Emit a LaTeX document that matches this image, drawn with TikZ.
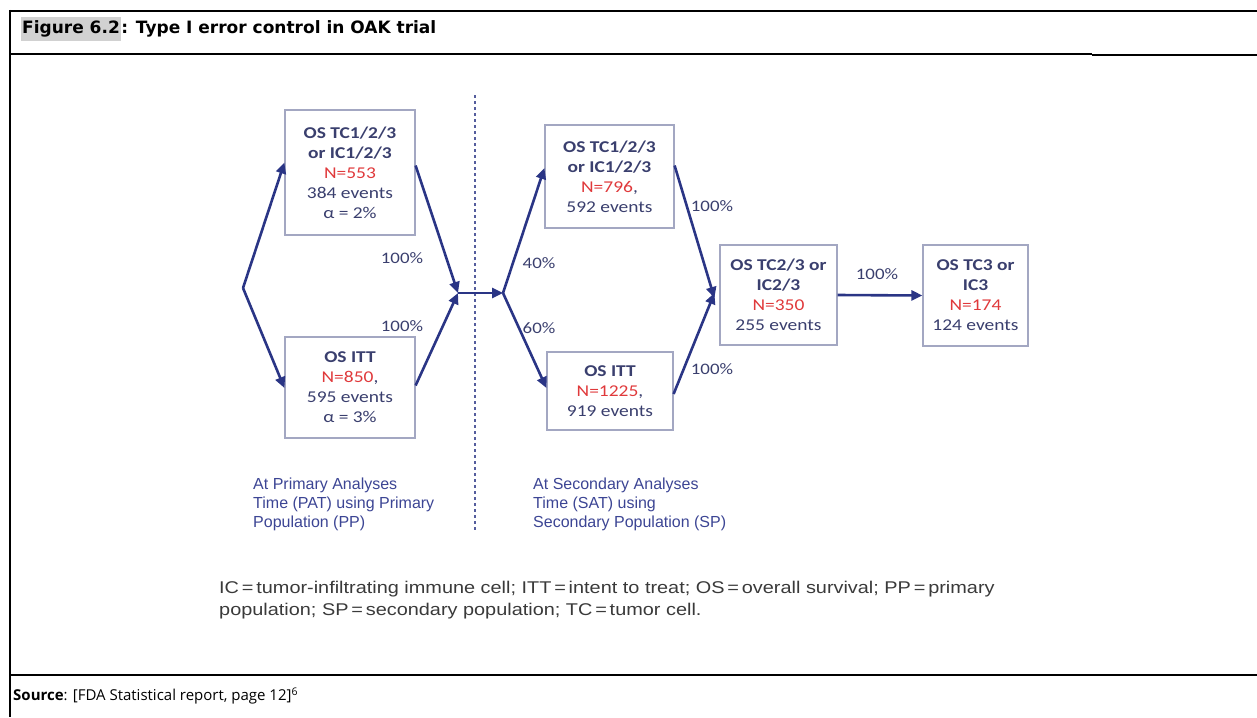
\documentclass[tikz,border=0pt]{standalone}
\usepackage{fontspec}
\setmainfont{Carlito}[FakeStretch=1.18]
\newfontfamily\titlefont{DejaVu Sans}
\newfontfamily\srcfont{Open Sans}
\newfontfamily\arialfont{Liberation Sans}
\newfontfamily\footfont{Liberation Sans}[FakeStretch=1.17]
\usetikzlibrary{arrows.meta}
\definecolor{navy}{HTML}{2A3585}
\definecolor{boxtext}{HTML}{3A3F6E}
\definecolor{nred}{HTML}{E0393B}
\definecolor{boxline}{HTML}{A3A7C2}
\definecolor{labblue}{HTML}{3C4594}
\definecolor{foot}{HTML}{3A3A3A}
\tikzset{
  boxnode/.style={draw=boxline, line width=1.2pt, fill=white, align=center, text=boxtext,
    font=\fontsize{16.5}{20}\selectfont, inner sep=0pt},
  conn/.style={draw=navy, line width=2.6pt, -{Triangle[length=11pt,width=10pt]}},
  pct/.style={text=boxtext, font=\fontsize{16}{18}\selectfont, inner sep=0pt},
  caption/.style={text=labblue, font=\arialfont\fontsize{16}{19}\selectfont, align=left, anchor=north west, inner sep=0pt},
}
\begin{document}
\begin{tikzpicture}[x=1pt,y=-1pt]
\useasboundingbox (0,0) rectangle (1257,717);
% frame
\draw[line width=2pt] (10,11) -- (1257,11);
\draw[line width=1.5pt] (10,10) -- (10,717);
\draw[line width=1.8pt] (10,54) -- (150,54);
\draw[line width=1.1pt] (150,54) -- (1092,54);
\draw[line width=1.8pt] (1092,55) -- (1257,55);
\draw[line width=2pt] (10,675) -- (1257,675);
% title
\node[anchor=west, inner xsep=1pt, inner ysep=4pt, fill=black!18, font=\titlefont\bfseries\fontsize{17}{19}\selectfont] (fig) at (21,29) {Figure 6.2};
\node[anchor=base west, inner xsep=0pt, font=\titlefont\bfseries\fontsize{17}{19}\selectfont] (title) at (fig.base east) {: Type I error control in OAK trial};
% source
\node[anchor=west, inner sep=0pt, font=\srcfont\fontsize{15}{17}\selectfont] (src) at (13,696) {\textbf{Source}: [FDA Statistical report, page 12]\textsuperscript{6}};
% dashed divider
\draw[navy!80, line width=1.5pt, dash pattern=on 3pt off 3pt] (475,95) -- (475,530);
% boxes
\node[boxnode, minimum width=130pt, minimum height=125pt] (A) at (350,172.5) {\textbf{OS TC1/2/3}\\\textbf{or IC1/2/3}\\\textcolor{nred}{N=553}\\384 events\\α = 2\%};
\node[boxnode, minimum width=130pt, minimum height=101pt] (B) at (350,387.5) {\textbf{OS ITT}\\\textcolor{nred}{N=850},\\595 events\\α = 3\%};
\node[boxnode, minimum width=129pt, minimum height=103pt] (C) at (609.5,176.5) {\textbf{OS TC1/2/3}\\\textbf{or IC1/2/3}\\\textcolor{nred}{N=796},\\592 events};
\node[boxnode, minimum width=126pt, minimum height=78pt] (D) at (610,391) {\textbf{OS ITT}\\\textcolor{nred}{N=1225},\\919 events};
\node[boxnode, minimum width=117pt, minimum height=100pt] (E) at (778.5,295) {\textbf{OS TC2/3 or}\\\textbf{IC2/3}\\\textcolor{nred}{N=350}\\255 events};
\node[boxnode, minimum width=105pt, minimum height=101pt] (F) at (975.5,295.5) {\textbf{OS TC3 or}\\\textbf{IC3}\\\textcolor{nred}{N=174}\\124 events};
% junctions
\coordinate (s) at (243,288);
\coordinate (j1) at (458,293);
\coordinate (j2) at (503,293);
% connectors
\draw[conn] (s) -- ([yshift=10pt]A.west);
\draw[conn] (s) -- ([yshift=-0.5pt]B.west);
\draw[conn] ([yshift=7pt]A.east) -- (j1);
\draw[conn] ([yshift=2pt]B.east) -- (j1);
\draw[conn] (j1) -- (j2);
\draw[conn] (j2) -- ([yshift=8.5pt]C.west);
\draw[conn] (j2) -- ([yshift=3pt]D.west);
\draw[conn] ([yshift=11pt]C.east) -- ([xshift=-5pt,yshift=-3pt]E.west);
\draw[conn] ([yshift=-3pt]D.east) -- ([xshift=-5pt,yshift=2pt]E.west);
\draw[conn] (E.east) -- (F.west);
% percent labels
\node[pct] (p1) at (402,258) {100\%};
\node[pct] (p2) at (402,326) {100\%};
\node[pct] (p3) at (539,263) {40\%};
\node[pct] (p4) at (539,328) {60\%};
\node[pct] (p5) at (712,206) {100\%};
\node[pct] (p6) at (712,369) {100\%};
\node[pct] (p7) at (877,274) {100\%};
% captions
\node[caption] (cl) at (253,478) {At Primary Analyses\\Time (PAT) using Primary\\Population (PP)};
\node[caption] (cr) at (533,478) {At Secondary Analyses\\Time (SAT) using\\Secondary Population (SP)};
% footnote
\node[anchor=north west, inner sep=0pt, align=left, text=foot, font=\footfont\fontsize{17}{22}\selectfont] (fn) at (219,581) {IC\,=\,tumor-infiltrating immune cell; ITT\,=\,intent to treat; OS\,=\,overall survival; PP\,=\,primary\\population; SP\,=\,secondary population; TC\,=\,tumor cell.};
\end{tikzpicture}
\end{document}
